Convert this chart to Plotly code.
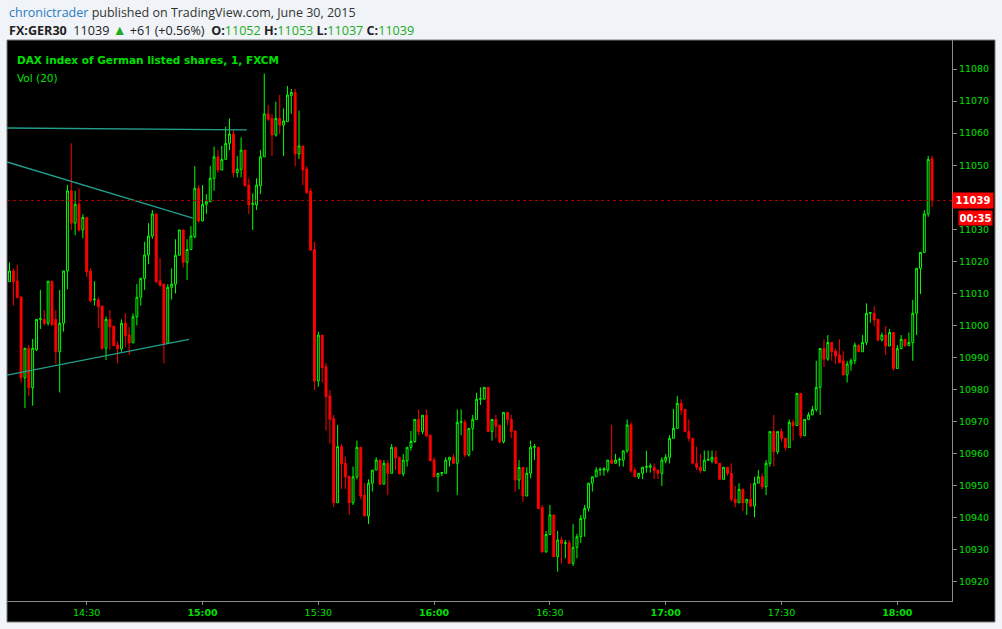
import plotly.graph_objects as go
import pandas as pd

# ---------------- data ----------------
start_time = "2015-06-30 14:10"
n_candles = 240

opens = [11013.7,11017.0,11013.9,11008.9,10983.7,10992.9,10980.6,10992.4,11001.9,11001.9,
 11000.7,11013.8,11001.9,10991.8,11000.7,11017.0,11042.0,11031.9,11037.8,11029.8,
 11033.7,11017.0,11008.0,11008.0,11006.1,10992.9,11001.9,10999.8,10993.9,10992.7,
 11000.7,10997.0,10994.6,11002.7,11008.8,11014.7,11022.0,11027.9,11034.8,11013.9,
 11012.9,10994.6,11011.9,11012.9,11021.9,11029.8,11019.7,11023.7,11027.7,11042.8,
 11032.6,11037.8,11038.6,11045.9,11052.6,11048.5,11051.8,11056.8,11059.7,11047.7,
 11048.7,11054.7,11043.8,11037.8,11037.6,11043.6,11052.6,11066.0,11064.6,11059.4,
 11064.6,11062.5,11063.6,11071.7,11072.7,11053.5,11056.0,11048.8,11041.9,11023.7,
 10982.7,10997.0,10987.1,10978.0,10970.9,10944.7,10962.2,10957.0,10953.0,10944.7,
 10952.8,10962.0,10947.1,10940.6,10950.8,10954.9,10958.0,10950.5,10957.0,10953.9,
 10962.0,10958.9,10953.7,10957.8,10962.0,10963.8,10970.7,10966.9,10972.0,10965.8,
 10958.0,10952.8,10953.9,10953.9,10958.0,10958.9,10957.0,10969.8,10969.8,10959.6,
 10967.9,10970.7,10977.0,10977.0,10980.7,10966.9,10970.7,10968.9,10963.7,10972.9,
 10970.7,10967.1,10951.8,10955.7,10946.8,10953.9,10962.0,10962.0,10943.2,10929.4,
 10934.8,10940.9,10927.9,10933.1,10932.0,10932.2,10925.8,10930.8,10934.1,10939.8,
 10943.0,10950.8,10952.8,10954.9,10954.9,10954.9,10958.0,10957.0,10958.0,10958.0,
 10960.9,10969.0,10954.9,10952.8,10953.9,10955.8,10955.8,10955.8,10954.9,10953.9,
 10957.8,10958.9,10964.8,10967.9,10975.7,10973.8,10966.9,10964.8,10957.0,10955.8,
 10954.7,10958.0,10957.8,10958.9,10957.0,10952.0,10955.8,10953.9,10945.8,10944.7,
 10948.9,10944.7,10945.8,10943.7,10950.8,10952.8,10949.7,10957.0,10966.9,10960.6,
 10966.9,10964.8,10961.9,10969.8,10968.8,10978.8,10965.6,10970.7,10972.1,10973.8,
 10980.7,10992.8,10989.5,10994.7,10992.0,10990.8,10989.0,10984.6,10988.0,10989.0,
 10993.9,10991.8,10994.7,11003.8,11003.8,11001.9,10995.5,10997.0,10993.6,10997.8,
 10986.6,10992.8,10995.7,10993.7,10994.7,11003.8,11017.8,11022.8,11034.8,11052.0]

highs = [11019.7,11017.8,11018.9,11008.9,10992.9,10993.9,10995.8,11001.9,11011.1,11004.8,
 11013.8,11013.8,11004.8,11011.1,11017.0,11043.8,11056.8,11042.0,11042.8,11034.7,
 11033.7,11017.8,11013.8,11008.8,11006.1,11002.8,11004.8,10999.8,10994.9,11001.9,
 11003.8,10999.6,11003.8,11012.9,11014.7,11026.1,11031.9,11036.0,11034.8,11021.0,
 11012.9,11012.9,11017.8,11026.9,11029.8,11029.8,11026.9,11031.0,11049.7,11043.8,
 11043.8,11041.0,11049.7,11055.8,11054.7,11056.0,11062.0,11064.6,11061.0,11052.9,
 11058.7,11054.7,11045.9,11041.2,11045.9,11054.7,11078.6,11068.8,11066.0,11069.8,
 11071.9,11067.7,11074.7,11073.8,11073.8,11067.0,11056.0,11049.7,11042.8,11026.1,
 10998.1,10997.0,10988.2,10979.9,10972.1,10969.0,10963.0,10959.1,10953.0,10956.0,
 10964.1,10962.0,10950.8,10952.0,10954.9,10958.9,10958.0,10958.0,10958.0,10963.0,
 10962.0,10958.9,10959.9,10962.0,10967.1,10970.7,10973.8,10972.0,10973.8,10965.8,
 10958.9,10953.9,10954.1,10958.9,10958.9,10959.9,10973.8,10973.8,10970.7,10967.9,
 10972.1,10979.0,10980.7,10980.7,10980.7,10970.7,10972.1,10968.9,10972.9,10972.9,
 10972.1,10967.1,10958.0,10955.7,10955.7,10964.1,10963.0,10962.0,10944.0,10935.9,
 10944.0,10940.9,10935.9,10934.1,10933.1,10933.1,10938.1,10935.0,10940.9,10944.0,
 10950.8,10952.8,10955.8,10955.8,10955.8,10958.0,10969.0,10959.9,10958.9,10960.9,
 10970.7,10969.8,10955.8,10953.9,10955.8,10960.9,10957.0,10957.0,10954.9,10958.9,
 10959.9,10965.8,10974.0,10978.0,10977.0,10973.8,10970.7,10964.8,10962.2,10959.9,
 10961.0,10961.0,10961.0,10961.0,10957.0,10955.8,10955.8,10957.0,10949.9,10950.8,
 10948.9,10945.8,10950.8,10952.8,10954.9,10953.9,10958.0,10966.9,10972.1,10966.9,
 10967.9,10964.8,10970.7,10970.7,10978.8,10978.8,10970.7,10972.9,10974.9,10989.0,
 10992.8,10995.7,10997.0,10994.7,10992.8,10995.7,10992.0,10989.0,10989.7,10994.7,
 10993.9,10997.0,11006.9,11004.0,11006.0,11001.9,10997.8,10999.8,10998.9,10997.8,
 10993.9,10997.0,10995.7,10997.8,11008.0,11017.8,11022.8,11036.0,11052.9,11053.0]

lows = [11013.7,11006.2,11008.7,10982.2,10974.2,10978.0,10975.0,10992.0,10998.9,11000.0,
 11000.0,11000.0,10988.0,10979.1,10998.1,11011.3,11029.8,11028.2,11029.3,11027.2,
 11015.2,11007.2,11006.2,10999.1,10992.4,10989.2,10992.4,10993.7,10988.2,10991.8,
 10993.2,10990.8,10994.6,11000.0,11006.2,11011.1,11019.1,11027.0,11013.1,11012.1,
 10988.2,10994.6,11008.1,11010.0,11021.9,11018.1,11014.2,11023.7,11027.2,11032.1,
 11032.6,11034.8,11038.6,11042.0,11047.7,11048.5,11051.8,11054.7,11046.2,11046.2,
 11046.2,11043.6,11034.8,11029.8,11036.0,11041.0,11052.6,11063.8,11052.9,11058.9,
 11059.7,11052.9,11063.6,11066.0,11049.7,11051.9,11043.8,11041.0,11023.5,10979.9,
 10980.9,10982.2,10967.2,10963.2,10943.3,10944.7,10949.0,10949.0,10940.9,10944.0,
 10952.0,10945.8,10940.6,10938.1,10948.2,10954.9,10950.5,10950.5,10947.1,10953.9,
 10954.9,10953.7,10953.0,10956.0,10961.0,10963.4,10965.8,10966.1,10965.1,10957.8,
 10952.8,10948.1,10953.0,10953.9,10956.0,10957.0,10947.1,10965.8,10958.9,10959.1,
 10960.9,10970.7,10975.2,10977.0,10966.9,10964.1,10964.8,10963.2,10963.2,10968.9,
 10964.8,10948.1,10948.9,10945.0,10946.8,10952.3,10958.0,10942.9,10929.1,10929.1,
 10934.8,10927.9,10923.2,10925.8,10927.4,10925.8,10925.0,10927.4,10932.2,10934.1,
 10942.0,10948.2,10952.8,10953.1,10953.1,10954.1,10957.0,10957.0,10956.0,10956.0,
 10960.3,10954.1,10952.8,10952.1,10952.1,10954.1,10954.1,10952.1,10952.1,10949.9,
 10957.0,10957.0,10964.8,10967.9,10972.1,10966.9,10963.8,10957.0,10954.9,10953.9,
 10954.7,10957.8,10957.0,10957.0,10952.0,10952.0,10953.1,10945.1,10943.3,10944.7,
 10942.2,10940.9,10943.3,10940.2,10950.8,10948.9,10947.1,10956.0,10956.0,10959.9,
 10963.8,10961.0,10961.9,10964.1,10968.8,10964.8,10965.6,10970.7,10972.1,10973.1,
 10972.1,10987.1,10989.0,10989.0,10988.0,10988.4,10984.6,10982.2,10985.9,10988.0,
 10991.8,10991.8,10993.9,11000.9,10999.8,10995.0,10995.0,10990.8,10993.6,10985.9,
 10986.6,10992.8,10993.2,10993.7,10989.0,10997.0,11009.8,11022.8,11033.9,11037.0]

closes = [11017.0,11013.7,11008.7,10983.7,10992.9,10980.6,10992.9,11001.9,11002.1,11000.6,
 11013.8,11000.2,10991.8,11000.7,11017.0,11042.0,11031.9,11037.8,11029.8,11033.7,
 11016.8,11007.7,11008.2,11005.9,10992.9,11001.9,10999.6,10993.7,10992.7,11000.7,
 10996.8,10994.6,11002.7,11008.8,11014.7,11022.0,11027.9,11034.8,11013.7,11012.6,
 10994.4,11011.9,11012.9,11021.9,11029.8,11019.7,11023.7,11027.9,11042.8,11032.6,
 11037.8,11038.6,11045.9,11052.6,11048.5,11051.8,11056.8,11059.7,11047.7,11048.8,
 11054.7,11043.6,11037.6,11038.0,11043.8,11052.6,11066.0,11064.3,11059.4,11064.6,
 11062.5,11063.8,11071.9,11072.7,11053.5,11056.0,11048.5,11041.5,11023.5,10982.7,
 10997.0,10986.9,10977.8,10970.7,10944.7,10962.2,10956.8,10952.8,10944.7,10952.8,
 10962.0,10946.8,10940.6,10950.8,10954.9,10958.0,10950.5,10957.0,10953.9,10962.0,
 10958.7,10953.7,10958.0,10962.0,10963.8,10970.7,10966.9,10972.0,10965.6,10957.8,
 10952.8,10953.9,10954.1,10958.0,10958.9,10957.0,10969.8,10970.0,10959.6,10967.9,
 10970.7,10977.0,10977.2,10980.7,10966.9,10970.7,10968.6,10963.7,10972.9,10970.7,
 10966.9,10951.8,10955.7,10946.8,10953.9,10962.0,10962.2,10942.9,10929.4,10934.8,
 10940.9,10927.9,10933.1,10932.0,10932.2,10925.8,10930.8,10934.1,10939.8,10942.9,
 10950.8,10952.8,10954.9,10955.1,10955.3,10958.0,10957.0,10958.0,10958.2,10960.9,
 10969.0,10954.7,10952.8,10953.9,10955.8,10956.0,10956.2,10954.7,10953.9,10958.0,
 10958.9,10964.8,10967.9,10975.7,10973.6,10966.9,10964.8,10957.0,10955.8,10954.7,
 10958.0,10958.2,10958.9,10957.0,10952.0,10955.8,10953.9,10945.8,10944.7,10948.9,
 10944.7,10945.8,10943.7,10950.8,10952.8,10949.7,10957.0,10966.9,10960.6,10966.9,
 10964.8,10961.9,10969.8,10968.8,10978.8,10965.6,10970.7,10972.1,10973.8,10980.7,
 10992.8,10989.5,10994.7,10991.8,10990.5,10988.4,10984.6,10988.0,10989.0,10993.9,
 10991.8,10994.7,11003.8,11004.0,11001.7,10995.5,10997.0,10993.6,10997.8,10986.6,
 10992.8,10995.7,10993.7,10994.7,11003.8,11017.8,11022.8,11034.8,11051.8,11039.0]

# trend lines drawn on the chart
trend_top_t = ["2015-06-30 14:09:21", "2015-06-30 15:11:30"]
trend_top_v = [11061.6, 11061.0]
trend_desc_t = ["2015-06-30 14:09:21", "2015-06-30 14:57:30"]
trend_desc_v = [11051.0, 11033.5]
trend_asc_t = ["2015-06-30 14:09:21", "2015-06-30 14:56:30"]
trend_asc_v = [10984.5, 10995.7]

last_price = 11039
countdown = "00:35"

x_tick_vals = ["2015-06-30 14:30", "2015-06-30 15:00", "2015-06-30 15:30", "2015-06-30 16:00",
               "2015-06-30 16:30", "2015-06-30 17:00", "2015-06-30 17:30", "2015-06-30 18:00"]
x_tick_text = ["14:30", "<b>15:00</b>", "15:30", "<b>16:00</b>", "16:30", "<b>17:00</b>", "17:30", "<b>18:00</b>"]
# 11040 is hidden behind the last-price box in the reference
y_tick_vals = [v for v in range(10920, 11081, 10) if v != 11040]

times = pd.date_range(start_time, periods=n_candles, freq="min")

# ---------------- figure ----------------
W, H = 1002, 629
L, R, T, B = 7, 50, 40, 28
pw, ph = W - L - R, H - T - B

def px_x(px):
    return (px - L) / pw

def px_y(py):
    return (H - B - py) / ph

GREEN = "#00ff00"
RED = "#ff0000"
TEAL = "#239e8c"

fig = go.Figure()

fig.add_trace(go.Candlestick(
    x=times, open=opens, high=highs, low=lows, close=closes,
    increasing=dict(line=dict(color=GREEN, width=1), fillcolor="#000000"),
    decreasing=dict(line=dict(color=RED, width=1), fillcolor=RED),
    whiskerwidth=0, showlegend=False, hoverinfo="skip",
))

for tt, vv in [(trend_top_t, trend_top_v), (trend_desc_t, trend_desc_v), (trend_asc_t, trend_asc_v)]:
    fig.add_trace(go.Scatter(x=pd.to_datetime(tt), y=vv, mode="lines",
                             line=dict(color=TEAL, width=1.3), showlegend=False, hoverinfo="skip"))

# black chart frame extending under the axes
fig.add_shape(type="rect", xref="paper", yref="paper",
              x0=0, x1=px_x(995), y0=px_y(622), y1=1,
              fillcolor="#000000", line=dict(color="#7a7a7a", width=1), layer="below")

# last price dotted line
fig.add_shape(type="line", xref="paper", yref="y", x0=0, x1=1, y0=last_price, y1=last_price,
              line=dict(color="#b00000", width=1, dash="dot"))

tick_font = dict(family="DejaVu Sans", size=9.5, color="#00e000")

fig.update_layout(
    width=W, height=H, autosize=False,
    margin=dict(l=L, r=R, t=T, b=B),
    paper_bgcolor="#f0f3f7", plot_bgcolor="#000000",
    showlegend=False,
    xaxis=dict(
        type="date",
        range=["2015-06-30 14:09:21", "2015-06-30 18:14:10"],
        rangeslider=dict(visible=False),
        showgrid=False, zeroline=False,
        showline=True, linecolor="#8a8a8a", linewidth=1,
        tickvals=pd.to_datetime(x_tick_vals), ticktext=x_tick_text,
        ticks="outside", ticklen=3, tickcolor="#8a8a8a",
        tickfont=tick_font,
    ),
    yaxis=dict(
        side="right",
        range=[10914.06, 11089.05],
        showgrid=False, zeroline=False,
        showline=True, linecolor="#8a8a8a", linewidth=1,
        tickvals=y_tick_vals, ticktext=[str(v) for v in y_tick_vals],
        ticks="outside", ticklen=4, tickcolor="#8a8a8a",
        tickfont=tick_font,
    ),
)

ann = []
# header
ann.append(dict(xref="paper", yref="paper", x=0, y=px_y(12), xanchor="left", yanchor="middle",
                showarrow=False,
                text="<span style='color:#2b7cc0'>chronictrader</span> published on TradingView.com, June 30, 2015",
                font=dict(family="Open Sans", size=12.5, color="#333333")))
gv = "#22aa22"
ann.append(dict(xref="paper", yref="paper", x=0, y=px_y(29), xanchor="left", yanchor="middle",
                showarrow=False,
                text=("<b>FX:GER30</b>  11039 <span style='color:%s;font-size:14px'>▲</span> +61 (+0.56%%)  "
                      "<b>O:</b><span style='color:%s'>11052</span> <b>H:</b><span style='color:%s'>11053</span> "
                      "<b>L:</b><span style='color:%s'>11037</span> <b>C:</b><span style='color:%s'>11039</span>") % (gv, gv, gv, gv, gv),
                font=dict(family="Open Sans", size=12.6, color="#222222")))
# legend texts
ann.append(dict(xref="paper", yref="paper", x=px_x(15), y=px_y(60), xanchor="left", yanchor="middle",
                showarrow=False, text="<b>DAX index of German listed shares, 1, FXCM</b>",
                font=dict(family="DejaVu Sans", size=10.5, color="#00e000")))
ann.append(dict(xref="paper", yref="paper", x=px_x(15), y=px_y(78), xanchor="left", yanchor="middle",
                showarrow=False, text="Vol (20)",
                font=dict(family="DejaVu Sans", size=10.5, color="#00e000")))
# price & countdown boxes
ann.append(dict(xref="paper", yref="y", x=1, y=last_price, xanchor="left", yanchor="middle",
                showarrow=False, text="<b>%d</b>" % last_price, bgcolor=RED, width=38, height=13, borderpad=1,
                font=dict(family="DejaVu Sans", size=10, color="#ffffff")))
ann.append(dict(xref="paper", yref="y", x=px_x(958), y=11033.6, xanchor="left", yanchor="middle",
                showarrow=False, text="<b>%s</b>" % countdown, bgcolor=RED, width=31, height=12, borderpad=1,
                font=dict(family="DejaVu Sans", size=10, color="#ffffff")))
fig.update_layout(annotations=ann)

fig.write_html("out.html", config={"displayModeBar": False},
               post_script="document.body.style.margin='0';document.body.style.padding='0';document.body.style.overflow='hidden';")
